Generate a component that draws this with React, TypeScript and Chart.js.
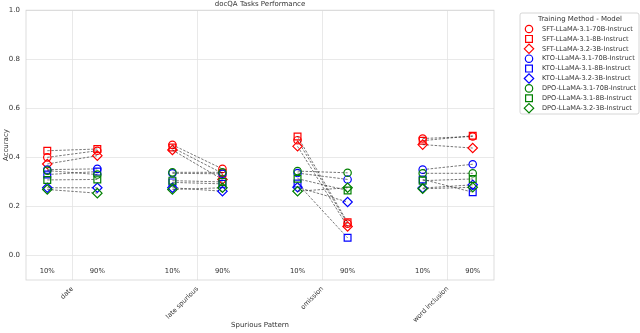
import React, { useEffect, useRef } from "react";
import { Chart, registerables } from "chart.js";

Chart.register(...registerables);

const categories = ["date", "late spurious", "omission", "word inclusion"];
const ratioLabels = ["10%", "90%"];
const seriesNames = [
  "SFT-LLaMA-3.1-70B-Instruct",
  "SFT-LLaMA-3.1-8B-Instruct",
  "SFT-LLaMA-3.2-3B-Instruct",
  "KTO-LLaMA-3.1-70B-Instruct",
  "KTO-LLaMA-3.1-8B-Instruct",
  "KTO-LLaMA-3.2-3B-Instruct",
  "DPO-LLaMA-3.1-70B-Instruct",
  "DPO-LLaMA-3.1-8B-Instruct",
  "DPO-LLaMA-3.2-3B-Instruct",
];
const seriesColors = ["#ff0000", "#ff0000", "#ff0000", "#0000ff", "#0000ff", "#0000ff", "#008000", "#008000", "#008000"];
const seriesMarkers = ["circle", "rect", "rectRot", "circle", "rect", "rectRot", "circle", "rect", "rectRot"];

// values per series: [date 10%, date 90%, late 10%, late 90%, omission 10%, omission 90%, word 10%, word 90%]
const sftLlama70b = [0.4, 0.427, 0.451, 0.353, 0.47, 0.13, 0.477, 0.485];
const sftLlama8b = [0.427, 0.434, 0.44, 0.335, 0.485, 0.135, 0.468, 0.488];
const sftLlama3b = [0.373, 0.407, 0.43, 0.31, 0.445, 0.118, 0.452, 0.438];
const ktoLlama70b = [0.35, 0.353, 0.335, 0.333, 0.336, 0.31, 0.35, 0.372];
const ktoLlama8b = [0.33, 0.342, 0.298, 0.292, 0.293, 0.072, 0.31, 0.258];
const ktoLlama3b = [0.276, 0.276, 0.276, 0.262, 0.278, 0.218, 0.275, 0.288];
const dpoLlama70b = [0.346, 0.33, 0.339, 0.339, 0.344, 0.337, 0.335, 0.335];
const dpoLlama8b = [0.308, 0.31, 0.305, 0.3, 0.313, 0.265, 0.305, 0.312];
const dpoLlama3b = [0.269, 0.254, 0.269, 0.276, 0.262, 0.276, 0.272, 0.278];
const seriesValues = [sftLlama70b, sftLlama8b, sftLlama3b, ktoLlama70b, ktoLlama8b, ktoLlama3b, dpoLlama70b, dpoLlama8b, dpoLlama3b];

const yTicks = [0, 0.2, 0.4, 0.6, 0.8, 1.0];
const ratioOffset = 0.2;

const FONT = "'DejaVu Sans', sans-serif";
const TXT = "#333333";

function pointRadiusFor(m: string) {
  if (m === "rect") return 4.8;
  if (m === "rectRot") return 4.7;
  return 3.7;
}

function drawMarker(ctx: CanvasRenderingContext2D, m: string, x: number, y: number, color: string) {
  const r = pointRadiusFor(m);
  ctx.save();
  ctx.strokeStyle = color;
  ctx.lineWidth = 1.2;
  ctx.beginPath();
  if (m === "circle") {
    ctx.arc(x, y, r, 0, Math.PI * 2);
  } else if (m === "rect") {
    const s = Math.SQRT1_2 * r;
    ctx.rect(x - s, y - s, 2 * s, 2 * s);
  } else {
    ctx.moveTo(x - r, y);
    ctx.lineTo(x, y - r);
    ctx.lineTo(x + r, y);
    ctx.lineTo(x, y + r);
    ctx.closePath();
  }
  ctx.stroke();
  ctx.restore();
}

const extrasPlugin = {
  id: "extras",
  beforeDatasetsDraw(chart: any) {
    const { ctx, chartArea } = chart;
    ctx.save();
    ctx.strokeStyle = "#d4d4d4";
    ctx.lineWidth = 0.8;
    ctx.strokeRect(chartArea.left, chartArea.top, chartArea.right - chartArea.left, chartArea.bottom - chartArea.top);
    const xs = chart.scales.x;
    ctx.fillStyle = TXT;
    ctx.font = `6.8px ${FONT}`;
    ctx.textAlign = "center";
    ctx.textBaseline = "middle";
    categories.forEach((_, i) => {
      ctx.fillText(ratioLabels[0], xs.getPixelForValue(i - ratioOffset), chartArea.bottom - 9);
      ctx.fillText(ratioLabels[1], xs.getPixelForValue(i + ratioOffset), chartArea.bottom - 9);
    });
    ctx.restore();
  },
  afterDraw(chart: any) {
    const { ctx, chartArea } = chart;
    ctx.save();
    ctx.fillStyle = TXT;
    ctx.font = `7px ${FONT}`;
    ctx.textAlign = "center";
    ctx.textBaseline = "middle";
    ctx.fillText("docQA Tasks Performance", (chartArea.left + chartArea.right) / 2, 4);
    const bx = 520, by = 13, bw = 119, bh = 101;
    ctx.fillStyle = "#ffffff";
    ctx.strokeStyle = "#cccccc";
    ctx.lineWidth = 0.8;
    ctx.beginPath();
    if ((ctx as any).roundRect) (ctx as any).roundRect(bx, by, bw, bh, 2);
    else ctx.rect(bx, by, bw, bh);
    ctx.fill();
    ctx.stroke();
    ctx.fillStyle = TXT;
    ctx.font = `7px ${FONT}`;
    ctx.textAlign = "center";
    ctx.fillText("Training Method - Model", 580, 19);
    ctx.font = `6.6px ${FONT}`;
    ctx.textAlign = "left";
    seriesNames.forEach((name, i) => {
      const y = 29 + i * 9.9;
      drawMarker(ctx, seriesMarkers[i], 529, y, seriesColors[i]);
      ctx.fillStyle = TXT;
      ctx.fillText(name, 542, y);
    });
    ctx.restore();
  },
};

export default function App() {
  const ref = useRef<HTMLCanvasElement | null>(null);
  useEffect(() => {
    if (!ref.current) return;
    const datasets = seriesNames.map((name, si) => {
      const vals = seriesValues[si];
      const data: { x: number; y: number | null }[] = [];
      categories.forEach((_, c) => {
        data.push({ x: c - ratioOffset, y: vals[2 * c] });
        data.push({ x: c + ratioOffset, y: vals[2 * c + 1] });
        data.push({ x: c + 0.5, y: null });
      });
      return {
        label: name,
        data,
        order: seriesNames.length - si,
        borderColor: "rgba(20,20,20,0.72)",
        borderWidth: 0.8,
        borderDash: [2.5, 1.5],
        spanGaps: false,
        pointStyle: seriesMarkers[si],
        pointRadius: pointRadiusFor(seriesMarkers[si]),
        pointBorderColor: seriesColors[si],
        pointBackgroundColor: "rgba(0,0,0,0)",
        pointBorderWidth: 1.2,
        fill: false,
        tension: 0,
      };
    });
    const chart = new Chart(ref.current, {
      type: "line",
      data: { datasets } as any,
      options: {
        responsive: false,
        animation: false,
        devicePixelRatio: 1,
        layout: { padding: { top: 9, right: 146, left: 0, bottom: 0 } },
        plugins: { legend: { display: false }, title: { display: false }, tooltip: { enabled: false } },
        scales: {
          x: {
            type: "linear",
            min: -0.37,
            max: 3.37,
            afterBuildTicks: (s: any) => {
              s.ticks = categories.map((_, i) => ({ value: i }));
            },
            afterFit: (s: any) => {
              s.height = 53;
            },
            grid: { color: "#e3e3e3", lineWidth: 0.8, drawTicks: false },
            border: { display: false },
            ticks: {
              autoSkip: false,
              minRotation: 45,
              maxRotation: 45,
              padding: 5,
              color: TXT,
              font: { family: FONT, size: 6.6 },
              callback: (v: any) => categories[Math.round(Number(v))] ?? "",
            },
            title: {
              display: true,
              text: "Spurious Pattern",
              color: TXT,
              font: { family: FONT, size: 7 },
              padding: { top: 0, bottom: 4 },
            },
          },
          y: {
            type: "linear",
            min: -0.1,
            max: 1.0,
            afterBuildTicks: (s: any) => {
              s.ticks = yTicks.map((v) => ({ value: v }));
            },
            afterFit: (s: any) => {
              s.width = 26;
            },
            grid: { color: "#e3e3e3", lineWidth: 0.8, drawTicks: false },
            border: { display: false },
            ticks: {
              padding: 6,
              color: TXT,
              font: { family: FONT, size: 7 },
              callback: (v: any) => Number(v).toFixed(1),
            },
            title: {
              display: true,
              text: "Accuracy",
              color: TXT,
              font: { family: FONT, size: 7 },
              padding: { top: 2, bottom: 0 },
            },
          },
        },
      } as any,
      plugins: [extrasPlugin],
    });
    return () => chart.destroy();
  }, []);
  return (
    <div style={{ position: "fixed", left: 0, top: 0, width: 640, height: 333, background: "#fff" }}>
      <canvas ref={ref} width={640} height={333} style={{ display: "block", width: 640, height: 333 }} />
    </div>
  );
}
